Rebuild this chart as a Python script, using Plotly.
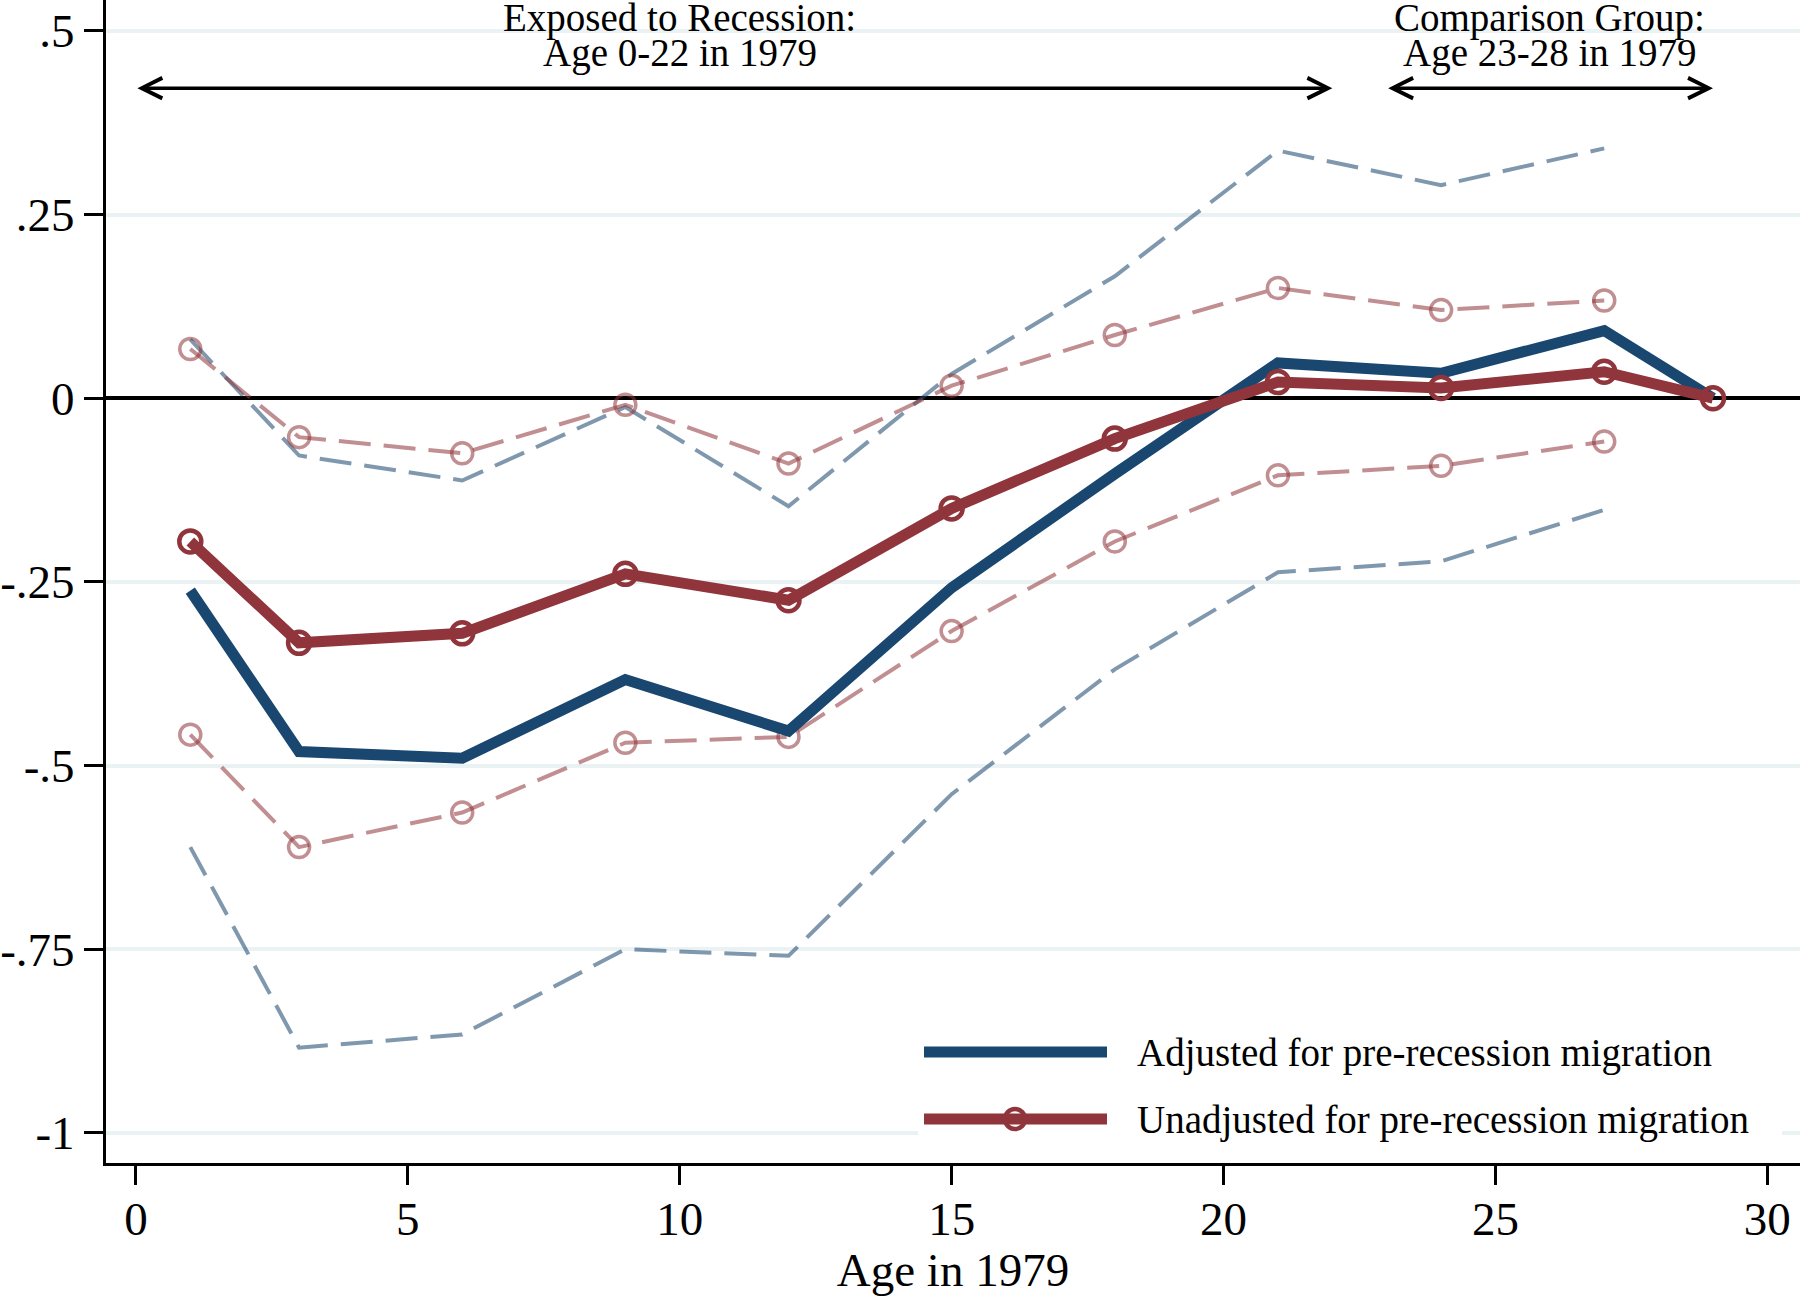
import plotly.graph_objects as go

# ---------------- data ----------------
ages = [1, 3, 6, 9, 12, 15, 18, 21, 24, 27, 29]
adjusted = [-0.262, -0.481, -0.490, -0.383, -0.453, -0.258, -0.103, 0.048, 0.034, 0.092, 0.0]
unadjusted = [-0.195, -0.333, -0.320, -0.239, -0.275, -0.150, -0.055, 0.022, 0.014, 0.036, 0.0]

ci_ages = [1, 3, 6, 9, 12, 15, 18, 21, 24, 27]
adj_hi = [0.080, -0.078, -0.112, -0.012, -0.147, 0.033, 0.166, 0.337, 0.290, 0.340]
adj_lo = [-0.611, -0.884, -0.866, -0.750, -0.759, -0.539, -0.369, -0.237, -0.222, -0.152]
unadj_hi = [0.067, -0.053, -0.075, -0.009, -0.089, 0.017, 0.086, 0.150, 0.120, 0.133]
unadj_lo = [-0.458, -0.611, -0.564, -0.469, -0.461, -0.317, -0.195, -0.105, -0.092, -0.059]

x_ticks = [0, 5, 10, 15, 20, 25, 30]
y_ticks = [-1, -0.75, -0.5, -0.25, 0, 0.25, 0.5]
y_tick_labels = ["-1", "-.75", "-.5", "-.25", "0", ".25", ".5"]

legend_labels = ["Adjusted for pre-recession migration", "Unadjusted for pre-recession migration"]
group_labels = [("Exposed to Recession:", "Age 0-22 in 1979", 10, 0, 22),
                ("Comparison Group:", "Age 23-28 in 1979", 26, 23, 29)]
arrow_y = 0.422

# ---------------- styles ----------------
BLUE = "#1a476f"
RED = "#90353b"
BLUE_CI = "rgba(26,71,111,0.56)"
RED_CI = "rgba(144,53,59,0.56)"
FONT = "Liberation Serif"

W, H = 1800, 1296
ML, MR, MT, MB = 106, 0, 0, 133
PW, PH = W - ML - MR, H - MT - MB


def px_x(px):
    return (px - ML) / PW


def px_y(py):
    return (H - MB - py) / PH


fig = go.Figure()

dash = "32px,13px"
fig.add_trace(go.Scatter(x=ci_ages, y=adj_hi, mode="lines",
                         line=dict(color=BLUE_CI, width=4, dash=dash), showlegend=False))
fig.add_trace(go.Scatter(x=ci_ages, y=adj_lo, mode="lines",
                         line=dict(color=BLUE_CI, width=4, dash=dash), showlegend=False))
fig.add_trace(go.Scatter(x=ci_ages, y=unadj_hi, mode="lines+markers",
                         line=dict(color=RED_CI, width=4, dash=dash),
                         marker=dict(symbol="circle-open", size=21, color=RED_CI, line=dict(width=3.5, color=RED_CI)),
                         showlegend=False))
fig.add_trace(go.Scatter(x=ci_ages, y=unadj_lo, mode="lines+markers",
                         line=dict(color=RED_CI, width=4, dash=dash),
                         marker=dict(symbol="circle-open", size=21, color=RED_CI, line=dict(width=3.5, color=RED_CI)),
                         showlegend=False))
fig.add_trace(go.Scatter(x=ages, y=adjusted, mode="lines", name=legend_labels[0],
                         line=dict(color=BLUE, width=11), showlegend=False))
fig.add_trace(go.Scatter(x=ages, y=unadjusted, mode="lines+markers", name=legend_labels[1],
                         line=dict(color=RED, width=11),
                         marker=dict(symbol="circle-open", size=22, color=RED, line=dict(width=4.5, color=RED)),
                         showlegend=False))

annotations = []
for top, bottom, xc, x0, x1 in group_labels:
    annotations.append(dict(x=xc, y=px_y(18), xref="x", yref="paper", text=top, showarrow=False,
                            xanchor="center", yanchor="middle", font=dict(family=FONT, size=39, color="black")))
    annotations.append(dict(x=xc, y=px_y(53), xref="x", yref="paper", text=bottom, showarrow=False,
                            xanchor="center", yanchor="middle", font=dict(family=FONT, size=39, color="black")))
    annotations.append(dict(x=x1, y=arrow_y, ax=x0, ay=arrow_y, xref="x", yref="y", axref="x", ayref="y",
                            text="", showarrow=True, arrowhead=5, startarrowhead=5, arrowside="end+start",
                            arrowsize=1.15, startarrowsize=1.15, arrowwidth=3.5, arrowcolor="black"))

# custom legend
shapes = []
shapes.append(dict(type="rect", xref="paper", yref="paper", x0=px_x(918), x1=px_x(1782),
                   y0=px_y(1152), y1=px_y(1022), fillcolor="white", line=dict(width=0), layer="above"))
leg_rows = [(1052, BLUE, False, legend_labels[0]), (1119, RED, True, legend_labels[1])]
for py, col, circ, lab in leg_rows:
    shapes.append(dict(type="line", xref="paper", yref="paper", x0=px_x(924), x1=px_x(1107),
                       y0=px_y(py), y1=px_y(py), line=dict(color=col, width=11), layer="above"))
    if circ:
        shapes.append(dict(type="circle", xref="paper", yref="paper", xsizemode="pixel", ysizemode="pixel",
                           xanchor=px_x(1015), yanchor=px_y(py), x0=-10, x1=10, y0=-10, y1=10,
                           line=dict(color=col, width=4.5), layer="above"))
    annotations.append(dict(x=px_x(1135), y=px_y(py + 1), xref="paper", yref="paper", text=lab,
                            showarrow=False, xanchor="left", yanchor="middle",
                            font=dict(family=FONT, size=39, color="black")))

fig.update_layout(
    width=W, height=H,
    margin=dict(l=ML, r=MR, t=MT, b=MB),
    paper_bgcolor="white", plot_bgcolor="white",
    font=dict(family=FONT, color="black"),
    showlegend=False,
    annotations=annotations,
    shapes=shapes,
    xaxis=dict(range=[-0.55, 30.6], tickvals=x_ticks, ticks="outside", ticklen=19, tickwidth=2.5,
               tickcolor="black", showline=True, linewidth=3, linecolor="black", showgrid=False,
               zeroline=False, tickfont=dict(family=FONT, size=47), ticklabelstandoff=-6,
               title=dict(text="Age in 1979", font=dict(family=FONT, size=47), standoff=3)),
    yaxis=dict(range=[-1.041, 0.542], tickvals=y_ticks, ticktext=y_tick_labels, ticks="outside",
               ticklen=19, tickwidth=2.5, tickcolor="black", showline=True, linewidth=3, linecolor="black",
               showgrid=True, gridcolor="#eaf2f3", gridwidth=3.5, zeroline=True, zerolinecolor="black",
               zerolinewidth=3.5, tickfont=dict(family=FONT, size=47)),
)

fig.write_html("out.html", config={"displayModeBar": False},
               post_script="document.body.style.margin='0';document.body.style.padding='0';")
